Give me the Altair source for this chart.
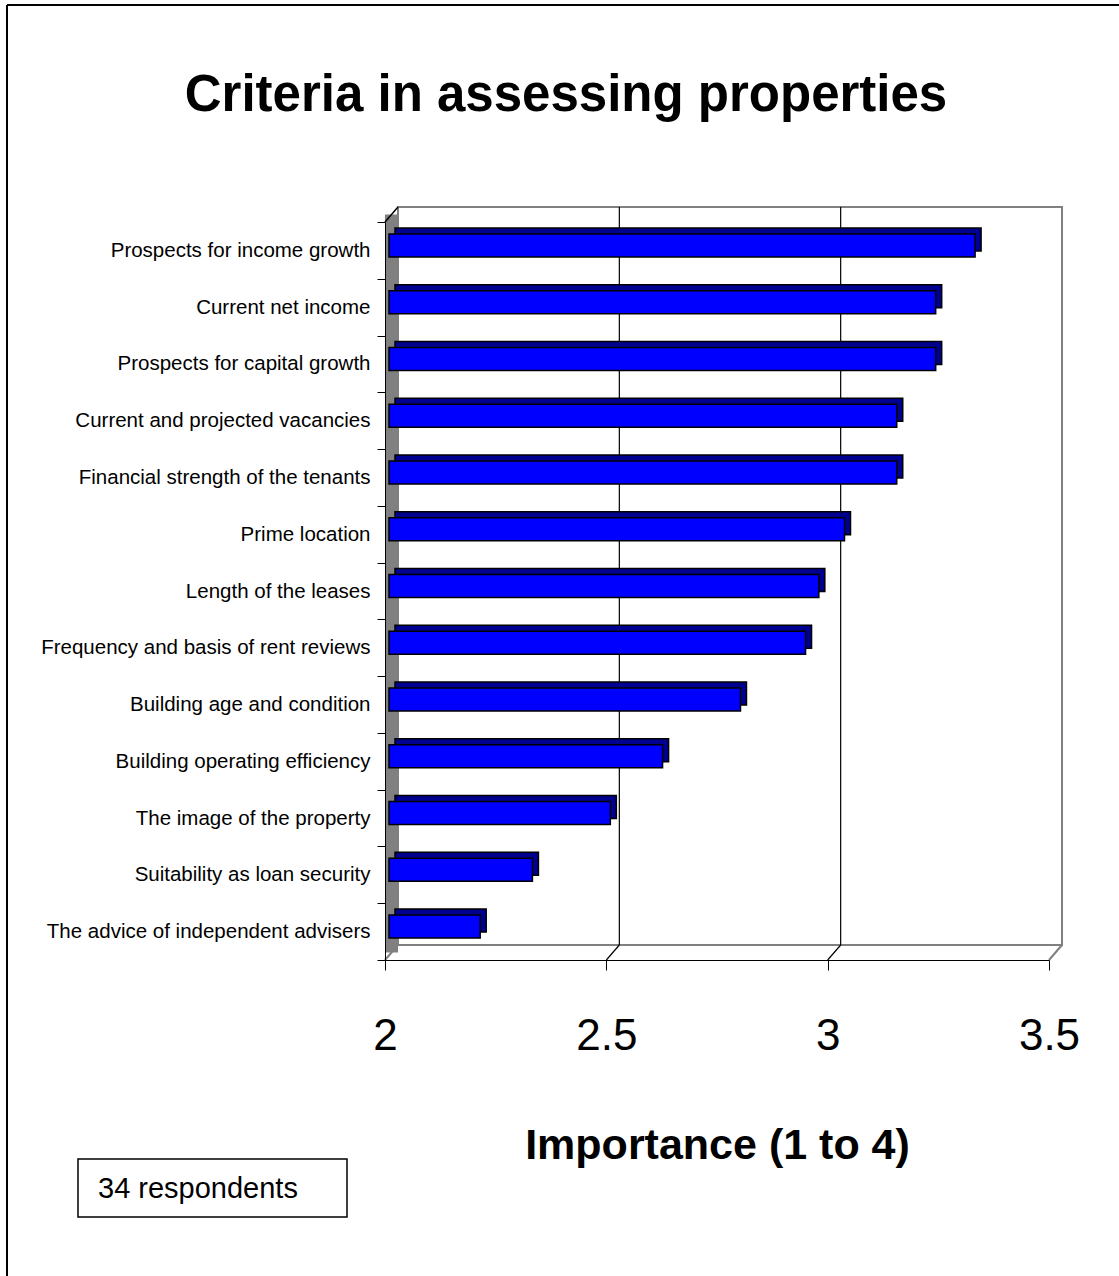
import altair as alt
import pandas as pd

categories = [
    "Prospects for income growth",
    "Current net income",
    "Prospects for capital growth",
    "Current and projected vacancies",
    "Financial strength of the tenants",
    "Prime location",
    "Length of the leases",
    "Frequency and basis of rent reviews",
    "Building age and condition",
    "Building operating efficiency",
    "The image of the property",
    "Suitability as loan security",
    "The advice of independent advisers",
]
values = [3.324, 3.235, 3.235, 3.147, 3.147, 3.029, 2.971, 2.941, 2.794, 2.618, 2.5, 2.324, 2.206]
x_ticks = [2, 2.5, 3, 3.5]
grid_values = [2.5, 3]
floor_gray = [2, 3.5]
title_text = ["Criteria in assessing properties"]
note_text = ["34 respondents"]
x_title = "Importance (1 to 4)"

W, H = 664, 738
FONT = "'Liberation Sans', Arial, sans-serif"

df = pd.DataFrame({"criterion": categories, "importance": values, "base": [2.0] * len(values)})
one = pd.DataFrame({"k": [0]})

xscale = alt.Scale(domain=[2, 3.5], nice=False, zero=False)
yscale = alt.Scale(domain=categories, paddingInner=0, paddingOuter=0)

xaxis = alt.Axis(
    values=x_ticks, format="~g", title=x_title, grid=False,
    labelFont=FONT, labelFontSize=44, labelColor="black", labelPadding=44,
    labelFlush=False, labelOverlap=False,
    tickColor="black", tickSize=10, domainColor="black",
    titleFont=FONT, titleFontSize=43, titleFontWeight="bold", titleColor="black",
    titlePadding=66, zindex=1,
)
yaxis = alt.Axis(
    title=None, grid=False, labelFont=FONT, labelFontSize=20.5, labelColor="black",
    labelPadding=7, tickColor="black", tickSize=8, domainColor="black",
    tickBand="extent", labelLimit=400, zindex=1,
)

# outer frame
frame_left = alt.Chart(one).mark_rule(color="black", strokeWidth=2).encode(
    x=alt.value(-378), y=alt.value(-217), y2=alt.value(1060))
frame_top = alt.Chart(one).mark_rule(color="black", strokeWidth=2).encode(
    x=alt.value(-378), x2=alt.value(740), y=alt.value(-217))

# left wall
left_wall = alt.Chart(one).mark_rect(color="#808080", x2Offset=13).encode(
    x=alt.X(datum=2, scale=xscale, axis=xaxis), x2=alt.X2(datum=2),
    y=alt.value(-7.5), y2=alt.value(730.5))
wall_top = alt.Chart(one).mark_rule(color="black", strokeWidth=1.5, x2Offset=13).encode(
    x=alt.X(datum=2, scale=xscale, axis=xaxis), x2=alt.X2(datum=2),
    y=alt.value(0), y2=alt.value(-15))

# back wall
back_wall = alt.Chart(one).mark_rect(fill="white", stroke="#808080", strokeWidth=2,
                                      xOffset=13, x2Offset=13).encode(
    x=alt.X(datum=2, scale=xscale, axis=xaxis), x2=alt.X2(datum=3.5),
    y=alt.value(-15), y2=alt.value(723))

grid = alt.Chart(pd.DataFrame({"g": grid_values})).mark_rule(
    color="black", strokeWidth=1.2, xOffset=13).encode(
    x=alt.X("g:Q", scale=xscale, axis=xaxis), y=alt.value(-15), y2=alt.value(723))
floor_black = alt.Chart(pd.DataFrame({"g": grid_values})).mark_rule(
    color="black", strokeWidth=1.2, x2Offset=13).encode(
    x=alt.X("g:Q", scale=xscale, axis=xaxis), x2="g:Q", y=alt.value(738), y2=alt.value(723))
floor_grey = alt.Chart(pd.DataFrame({"g": floor_gray})).mark_rule(
    color="#808080", strokeWidth=2, x2Offset=13).encode(
    x=alt.X("g:Q", scale=xscale, axis=xaxis), x2="g:Q", y=alt.value(738), y2=alt.value(723))

# bars (3D: dark back face, blue front face)
bars_back = alt.Chart(df).mark_bar(
    color="#000090", stroke="black", strokeWidth=1.5, size=23,
    xOffset=10, x2Offset=10, yOffset=-11).encode(
    x=alt.X("base:Q", scale=xscale, axis=xaxis), x2="importance:Q",
    y=alt.Y("criterion:N", scale=yscale, sort=categories, axis=yaxis))
bars_front = alt.Chart(df).mark_bar(
    color="#0000FF", stroke="black", strokeWidth=1.5, size=23,
    xOffset=4, x2Offset=4, yOffset=-5).encode(
    x=alt.X("base:Q", scale=xscale, axis=xaxis), x2="importance:Q",
    y=alt.Y("criterion:N", scale=yscale, sort=categories, axis=yaxis))

# note box
note_box = alt.Chart(one).mark_rect(fill="white", stroke="black", strokeWidth=1.5).encode(
    x=alt.value(-307), x2=alt.value(-38), y=alt.value(937), y2=alt.value(995))
note = alt.Chart(pd.DataFrame({"t": note_text})).mark_text(
    font=FONT, fontSize=29, align="left", baseline="middle", color="black").encode(
    x=alt.value(-287), y=alt.value(967), text="t:N")

title = alt.Chart(pd.DataFrame({"t": title_text})).mark_text(
    font=FONT, fontSize=51, fontWeight="bold", align="center", baseline="alphabetic",
    color="black").encode(x=alt.value(181), y=alt.value(-111), text="t:N")

chart = alt.layer(
    frame_left, frame_top, left_wall, back_wall, grid, floor_black, floor_grey, wall_top,
    bars_back, bars_front, note_box, note, title,
).properties(
    width=W, height=H,
    padding={"left": 385, "top": 222, "right": 70, "bottom": 316},
    autosize=alt.AutoSizeParams(type="none"),
    background="white",
).configure_view(stroke=None)

chart.save("out.html", embed_options={"renderer": "svg", "actions": False})
